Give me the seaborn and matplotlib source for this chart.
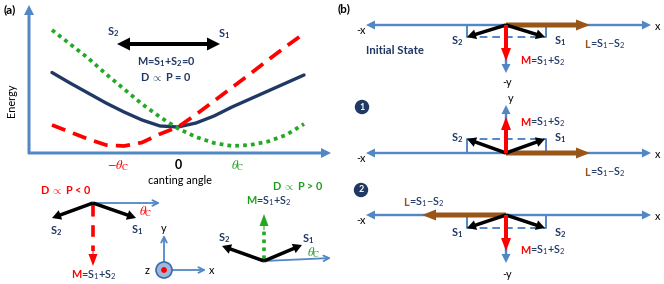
import matplotlib
matplotlib.use("Agg")
import matplotlib.pyplot as plt
import seaborn as sns
import numpy as np
from matplotlib.patches import Circle

# ---- energy curves (canting angle in units of theta_c) ----
angle = [-2.1, -1.8, -1.5, -1.2, -0.9, -0.6, -0.3, 0.0, 0.3, 0.6, 0.9, 1.2, 1.5, 1.8, 2.1]
e_zero = [8.05, 7.0, 6.0, 5.0, 4.1, 3.3, 2.7, 2.6, 3.0, 3.7, 4.6, 5.4, 6.2, 7.0, 7.8]
e_neg = [2.8, 2.1, 1.4, 0.8, 0.7, 1.05, 1.9, 2.6, 3.85, 5.2, 6.55, 7.9, 9.3, 10.65, 11.95]
e_pos = [12.3, 10.9, 9.5, 7.9, 6.4, 4.9, 3.6, 2.45, 1.6, 1.0, 0.7, 0.8, 1.15, 1.8, 2.9]
tick_pos = [-1, 0, 1]
tick_labels = [r"$-\theta_\mathrm{C}$", "0", r"$\theta_\mathrm{C}$"]

NAVY = "#1F3864"
BLUE = "#5287C6"
RED = "#FF0000"
GREEN = "#1E9E1E"
BROWN = "#9A5518"

sns.set_style("white")
plt.rcParams["font.family"] = ["Lato", "DejaVu Sans"]
plt.rcParams["mathtext.fontset"] = "custom"
plt.rcParams["mathtext.rm"] = "Lato"
plt.rcParams["mathtext.it"] = "Lato:italic"
plt.rcParams["mathtext.bf"] = "Lato:bold"

fig = plt.figure(figsize=(6.64, 2.84), dpi=100)
ax = fig.add_axes([0, 0, 1, 1])
ax.set_xlim(0, 664)
ax.set_ylim(284, 0)
ax.axis("off")

FS = 7.8
THC = r"$\theta_\mathrm{C}$"


def arrow(x0, y0, x1, y1, color, w, hw, hl, z=3):
    ax.arrow(x0, y0, x1 - x0, y1 - y0, width=w, head_width=hw, head_length=hl,
             length_includes_head=True, color=color, lw=0, zorder=z)


def thin(x0, y0, x1, y1, color=BLUE, lw=1.3):
    ax.annotate("", xy=(x1, y1), xytext=(x0, y0),
                arrowprops=dict(arrowstyle="->", color=color, lw=lw,
                                mutation_scale=10, shrinkA=0, shrinkB=0))


def txt(x, y, s, color=NAVY, ha="center", size=FS, weight="normal", **kw):
    ax.text(x, y, s, color=color, ha=ha, va="center", fontsize=size,
            fontweight=weight, **kw)


def two(x, y, first, rest, c1, size=FS):
    txt(x, y, first, color=c1, ha="right", size=size, weight="bold")
    txt(x, y, rest, color=NAVY, ha="left", size=size, weight="semibold")


def slab(x, y, n):
    txt(x, y, "S$_\\mathbf{%s}$" % n, weight="bold")


# ---------------- panel (a) ----------------
txt(4, 10, "(a)", color="black", ha="left", weight="bold", size=8.5)
arrow(29, 154, 29, 5, BLUE, 3, 10, 10)
arrow(28, 153, 331, 153, BLUE, 3, 10, 10)
txt(12, 100, "Energy", color="black", size=FS, rotation=90)

ax_e = fig.add_axes([29 / 664, (284 - 153) / 284, 301 / 664, 145 / 284])
ax_e.patch.set_alpha(0)
sns.lineplot(x=angle, y=e_zero, ax=ax_e, color=NAVY, lw=2.4)
sns.lineplot(x=angle, y=e_neg, ax=ax_e, color=RED, lw=2.7,
             linestyle=(0, (3.8, 2.2)))
sns.lineplot(x=angle, y=e_pos, ax=ax_e, color="#22A822", lw=2.7,
             linestyle=(0, (1.0, 1.1)))
ax_e.set_xlim(-2.483, 2.533)
ax_e.set_ylim(0, 14.5)
for s in ax_e.spines.values():
    s.set_visible(False)
ax_e.set_yticks([])
ax_e.set_xticks(tick_pos)
ax_e.set_xticklabels(tick_labels, fontsize=9)
ax_e.tick_params(axis="x", length=0, pad=4)
for lab, c in zip(ax_e.get_xticklabels(), [RED, "black", GREEN]):
    lab.set_color(c)
    lab.set_fontweight("bold")
    lab.set_math_fontfamily("stix")
ax_e.set_xlabel("canting angle", fontsize=FS, color="black", labelpad=1)

# top double arrow
arrow(168, 44, 117, 44, "black", 4, 13, 13)
arrow(168, 44, 220, 44, "black", 4, 13, 13)
slab(113, 32, 2)
slab(224, 34, 1)
txt(166, 62, r"M=S$_\mathbf{1}$+S$_\mathbf{2}$=0", weight="bold")
txt(166, 77, r"D $\propto$ P = 0", weight="bold")

# bottom left: D ∝ P < 0
txt(66, 190, r"D $\propto$ P < 0", color=RED, weight="bold")
thin(93, 203, 160, 203)
arrow(93, 203, 52, 218, "black", 3.5, 10, 9, z=4)
arrow(93, 203, 136, 218, "black", 3.5, 10, 9, z=4)
ax.plot([93, 93], [205, 251], color=RED, lw=2.6, dashes=(3.2, 2.4), zorder=3)
arrow(93, 247, 93, 266, RED, 1, 9, 12)
txt(146, 212, THC, color=RED, size=9, math_fontfamily="stix")
slab(56, 231, 2)
slab(137, 230, 1)
two(81, 275, "M", "=S$_1$+S$_2$", RED)

# xyz icon
thin(164, 262, 164, 235)
thin(172, 270, 206, 270)
ax.add_patch(Circle((164, 270), 8, facecolor="#9DB7DD", edgecolor="#3E6BA8",
                    lw=1.2, zorder=4))
ax.add_patch(Circle((164, 270), 2.2, color=RED, zorder=5))
txt(164, 228, "y", color="black")
txt(212, 270, "x", color="black")
txt(147, 271, "z", color="black")

# bottom right: D ∝ P > 0
txt(298, 186, r"D $\propto$ P > 0", color=GREEN, weight="bold")
two(256, 201, "M", "=S$_1$+S$_2$", GREEN)
ax.plot([264, 264], [259, 228], color="#22A822", lw=2.6, dashes=(1, 1.2), zorder=3)
arrow(264, 230, 264, 214, "#22A822", 1, 9, 12)
thin(264, 261, 331, 258)
arrow(264, 261, 222, 246, "black", 3.5, 10, 9, z=4)
arrow(264, 261, 302, 245, "black", 3.5, 10, 9, z=4)
slab(224, 238, 2)
slab(308, 239, 1)
txt(314, 253, THC, color=GREEN, size=9, math_fontfamily="stix")

# ---------------- panel (b) ----------------
txt(344, 9, "(b)", color="black", weight="bold", size=8.5)


def state(y0, left_n, right_n, m_dir, l_end, s_y, lab_y):
    arrow(506, y0, 366, y0, BLUE, 2.4, 9, 9)
    arrow(506, y0, 651, y0, BLUE, 2.4, 9, 9)
    txt(361, y0 + 6, "-x", color="black")
    txt(658, y0 + 2, "x", color="black")
    # dashed projection box
    ax.plot([467, 546], [s_y, s_y], color=BLUE, lw=1.4, dashes=(4, 2.5), zorder=2)
    ax.plot([467, 467], [y0, s_y], color=BLUE, lw=1.4, zorder=2)
    ax.plot([546, 546], [y0, s_y], color=BLUE, lw=1.4, zorder=2)
    # y axis arrow behind M
    yt = y0 + 48 if m_dir > 0 else y0 - 48
    arrow(506, y0, 506, yt, BLUE, 2.4, 9, 9, z=2)
    arrow(506, y0, 506, y0 + m_dir * 36, RED, 4, 10, 13, z=5)
    arrow(506, y0, l_end, y0, BROWN, 5, 11, 14, z=3)
    arrow(506, y0, 467, s_y, "black", 3.5, 10, 9, z=4)
    arrow(506, y0, 545, s_y, "black", 3.5, 10, 9, z=4)
    slab(457, lab_y, left_n)
    slab(560, lab_y, right_n)


state(25, 2, 1, 1, 590, 37, 41)
txt(395, 50, "Initial State", weight="bold", size=8.2)
txt(507, 83, "-y", color="black")
two(530, 61, "M", "=S$_1$+S$_2$", RED)
two(590, 44, "L", "=S$_1$$-$S$_2$", BROWN)

state(153, 2, 1, -1, 590, 139, 138)
txt(511, 99, "y", color="black")
two(530, 122, "M", "=S$_1$+S$_2$", RED)
two(590, 172, "L", "=S$_1$$-$S$_2$", BROWN)

state(215, 1, 2, 1, 422, 228, 233)
txt(507, 275, "-y", color="black")
two(530, 250, "M", "=S$_1$+S$_2$", RED)
two(409, 202, "L", "=S$_1$$-$S$_2$", BROWN)

for (cx, cy, n) in [(362, 107, "1"), (361, 190, "2")]:
    ax.add_patch(Circle((cx, cy), 6.5, color=NAVY, zorder=4))
    txt(cx, cy, n, color="white", weight="bold", size=6.5, zorder=5)

fig.savefig("out.png", dpi=100)
